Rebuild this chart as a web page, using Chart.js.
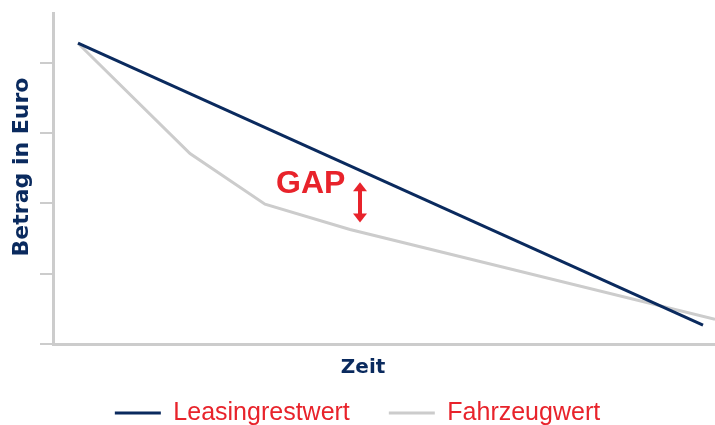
<!DOCTYPE html>
<html>
<head>
<meta charset="utf-8">
<script src="https://cdn.jsdelivr.net/npm/chart.js@4"></script>
<style>
  html, body { margin: 0; padding: 0; background: #fff; }
  #wrap { width: 715px; height: 425px; }
</style>
</head>
<body>
<div id="wrap"><canvas id="gapChart"></canvas></div>
<script>
// time (arbitrary units) and values (arbitrary euro units)
const leasingX = [25, 650];
const leasingY = [4.28, 0.27];
const fahrzeugX = [25, 137, 212, 297, 662];
const fahrzeugY = [4.28, 2.71, 1.99, 1.63, 0.35];
const yTicks = [0, 1, 2, 3, 4];

const navy = '#0a2a5e';
const grey = '#cccccc';
const red = '#e8232b';

function toPoints(xs, ys) {
  return xs.map((x, i) => ({ x: x, y: ys[i] }));
}

// GAP label and arrow (in data units)
const gapText = { x: 223, y: 2.27 };
const gapArrow = { x: 307, from: 2.30, to: 1.73 };

const gapPlugin = {
  id: 'gap',
  afterDatasetsDraw(chart) {
    const ctx = chart.ctx;
    const x = chart.scales.x, y = chart.scales.y;
    ctx.save();
    ctx.fillStyle = red;
    ctx.strokeStyle = red;
    ctx.font = 'bold 32px "Liberation Sans", Arial, sans-serif';
    ctx.textBaseline = 'middle';
    ctx.fillText('GAP', x.getPixelForValue(gapText.x), y.getPixelForValue(gapText.y));

    let ax = x.getPixelForValue(gapArrow.x);
    let y1 = y.getPixelForValue(gapArrow.from);
    let y2 = y.getPixelForValue(gapArrow.to);
    let head = 9, half = 7;
    ctx.lineWidth = 4;
    ctx.beginPath();
    ctx.moveTo(ax, y1 + head - 1);
    ctx.lineTo(ax, y2 - head + 1);
    ctx.stroke();
    ctx.beginPath();
    ctx.moveTo(ax, y1);
    ctx.lineTo(ax - half, y1 + head);
    ctx.lineTo(ax + half, y1 + head);
    ctx.closePath();
    ctx.fill();
    ctx.beginPath();
    ctx.moveTo(ax, y2);
    ctx.lineTo(ax - half, y2 - head);
    ctx.lineTo(ax + half, y2 - head);
    ctx.closePath();
    ctx.fill();
    ctx.restore();
  }
};

const ctx = document.getElementById('gapChart').getContext('2d');
const myChart = new Chart(ctx, {
  type: 'line',
  data: {
    datasets: [{
      label: 'Leasingrestwert',
      data: toPoints(leasingX, leasingY),
      borderColor: navy,
      backgroundColor: navy,
      borderWidth: 3,
      pointRadius: 0,
      tension: 0
    }, {
      label: 'Fahrzeugwert',
      data: toPoints(fahrzeugX, fahrzeugY),
      borderColor: grey,
      backgroundColor: grey,
      borderWidth: 3,
      pointRadius: 0,
      tension: 0
    }]
  },
  options: {
    responsive: true,
    maintainAspectRatio: false,
    animation: false,
    // legend sits partly below the canvas edge, as in the original
    layout: { padding: { top: 13, right: 0, bottom: -10.5, left: 0 } },
    plugins: {
      tooltip: { enabled: false },
      legend: {
        position: 'bottom',
        labels: {
          color: red,
          font: { family: '"Liberation Sans", Arial, sans-serif', size: 25 },
          boxWidth: 46,
          boxHeight: 3,
          padding: 39,
          generateLabels: chart => chart.data.datasets.map((d, i) => ({
            text: d.label,
            fillStyle: d.borderColor,
            strokeStyle: d.borderColor,
            fontColor: red,
            lineWidth: 0,
            datasetIndex: i
          }))
        }
      }
    },
    scales: {
      x: {
        type: 'linear',
        min: 0,
        max: 662,
        grid: { display: false },
        border: { display: true, color: grey, width: 3 },
        ticks: { display: false },
        title: {
          display: true,
          text: 'Zeit      ',
          color: navy,
          font: { family: '"DejaVu Sans", sans-serif', size: 20, weight: 'bold' },
          padding: { top: 0, bottom: -18.5 }
        },
        afterFit: s => { s.height = 17.5; }
      },
      y: {
        min: 0,
        max: 4.71,
        afterBuildTicks: s => { s.ticks = yTicks.map(v => ({ value: v })); },
        grid: { drawOnChartArea: false, drawTicks: true, tickLength: 13, color: grey, lineWidth: 2 },
        border: { display: true, color: grey, width: 3 },
        ticks: { display: false },
        title: {
          display: true,
          text: '   Betrag in Euro',
          color: navy,
          font: { family: '"DejaVu Sans", sans-serif', size: 22, weight: 'bold' },
          padding: { top: 9, bottom: 0 }
        },
        afterFit: s => { s.width = 53; }
      }
    }
  },
  plugins: [gapPlugin]
});
</script>
</body>
</html>
